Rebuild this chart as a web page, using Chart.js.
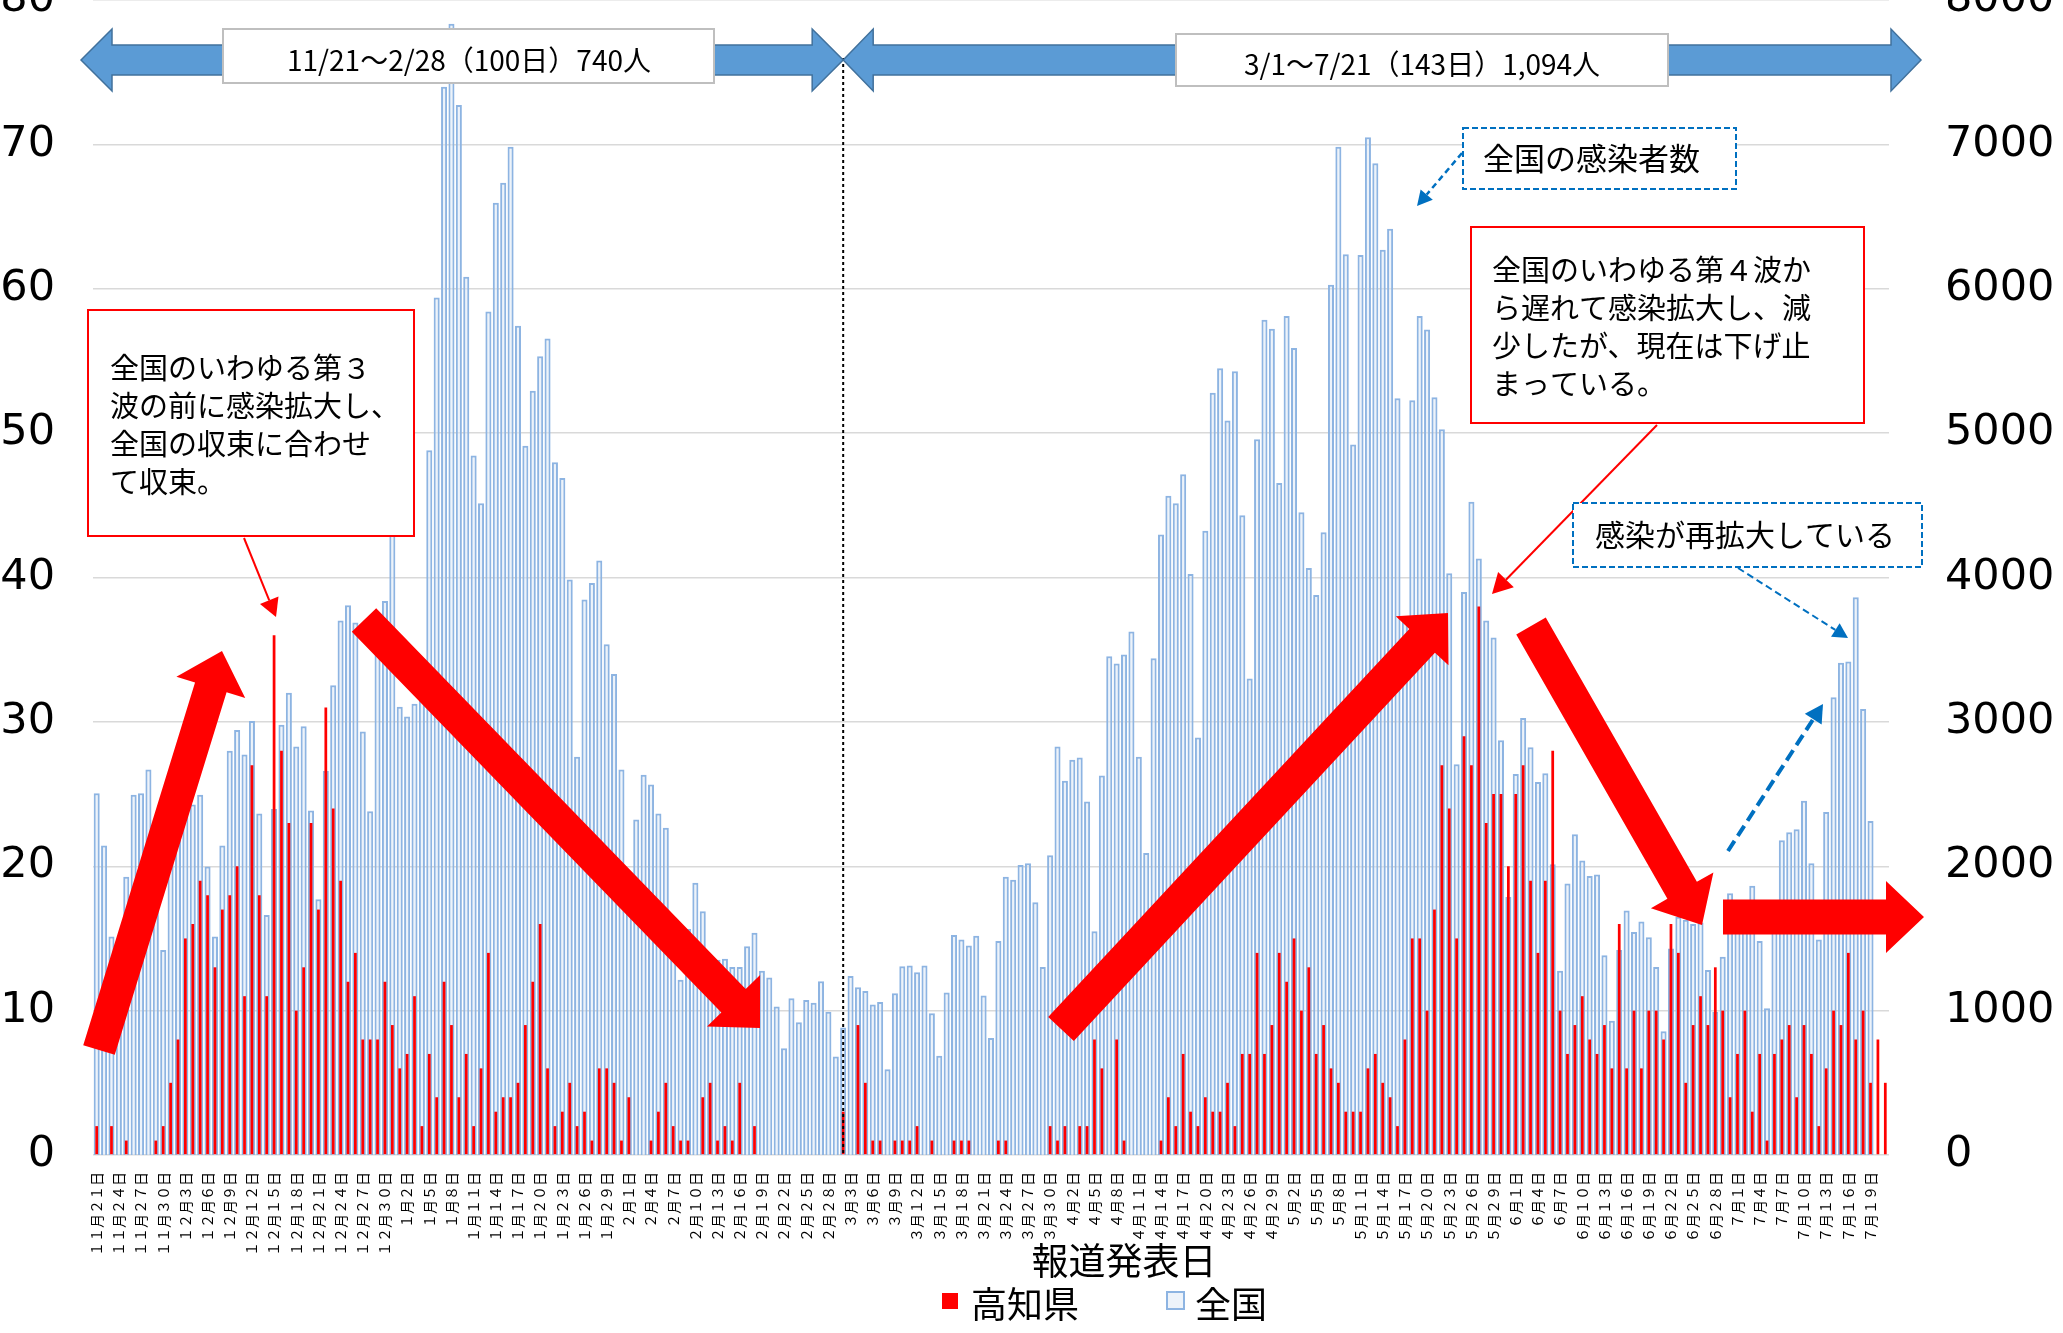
<!DOCTYPE html>
<html lang="ja">
<head>
<meta charset="utf-8">
<title>高知県・全国の新規感染者数</title>
<script src="https://cdn.jsdelivr.net/npm/chart.js@4.4.1/dist/chart.umd.min.js"></script>
<style>
  html, body { margin: 0; padding: 0; background: #fff; overflow: hidden; }
  #chart { display: block; }
</style>
</head>
<body>
<canvas id="chart" width="2063" height="1333"></canvas>
<script>
// 報道発表日 11/21〜7/21 (month, first day, last day)
const monthSpans = [[11, 21, 30], [12, 1, 31], [1, 1, 31], [2, 1, 28], [3, 1, 31], [4, 1, 30], [5, 1, 31], [6, 1, 30], [7, 1, 21]];
const dates = [];
monthSpans.forEach(([m, from, to]) => {
  for (let d = from; d <= to; d++) dates.push(m + '月' + d + '日');
});

// 高知県 (left axis)
const kochi = [
  2, 0, 2, 0, 1, 0, 0, 0, 1, 2,
  5, 8, 15, 16, 19, 18, 13, 17, 18, 20, 11, 27, 18, 11, 36, 28, 23, 10, 13, 23, 17, 31, 24, 19, 12, 14, 8, 8, 8, 12, 9,
  6, 7, 11, 2, 7, 4, 12, 9, 4, 7, 2, 6, 14, 3, 4, 4, 5, 9, 12, 16, 6, 2, 3, 5, 2, 3, 1, 6, 6, 5, 1,
  4, 0, 0, 1, 3, 5, 2, 1, 1, 0, 4, 5, 1, 2, 1, 5, 0, 2, 0, 0, 0, 0, 0, 0, 0, 0, 0, 0,
  0, 3, 0, 9, 5, 1, 1, 0, 1, 1, 1, 2, 0, 1, 0, 0, 1, 1, 1, 0, 0, 0, 1, 1, 0, 0, 0, 0, 0, 2, 1,
  2, 0, 2, 2, 8, 6, 0, 8, 1, 0, 0, 0, 0, 1, 4, 2, 7, 3, 2, 4, 3, 3, 5, 2, 7, 7, 14, 7, 9, 14,
  12, 15, 10, 13, 7, 9, 6, 5, 3, 3, 3, 6, 7, 5, 4, 2, 8, 15, 15, 10, 17, 27, 24, 15, 29, 27, 38, 23, 25, 25, 20,
  25, 27, 19, 14, 19, 28, 10, 7, 9, 11, 8, 7, 9, 6, 16, 6, 10, 6, 10, 10, 8, 16, 14, 5, 9, 11, 9, 13, 10, 4,
  7, 10, 3, 7, 1, 7, 8, 9, 4, 9, 7, 2, 6, 10, 9, 14, 8, 10, 5, 8, 5
];

// 全国 (right axis)
const zenkoku = [
  2505, 2143, 1513, 1228, 1927, 2495, 2505, 2670, 2066, 1420,
  2030, 2430, 2510, 2428, 2495, 1999, 1513, 2143, 2800, 2944, 2774, 3006, 2366, 1663, 2397, 2980, 3202, 2830, 2970, 2386,
  1772, 2660, 3254, 3703, 3807, 3688, 2934, 2381, 3590, 3838, 4520,
  3104, 3037, 3125, 3300, 4881, 5940, 7400, 7835, 7272, 6083, 4845, 4514, 5842, 6596, 6735, 6983, 5744, 4912, 5294, 5532,
  5656, 4798, 4690, 3987, 2758, 3848, 3962, 4117, 3538, 3331, 2670,
  1790, 2324, 2634, 2567, 2366, 2267, 1600, 1214, 1565, 1885, 1689, 1360, 1353, 1360, 1302, 1302, 1446, 1539, 1276, 1229,
  1028, 739, 1085, 919, 1074, 1054, 1203, 992,
  682, 883, 1240, 1162, 1136, 1043, 1059, 594, 1121, 1307, 1312, 1265, 1312, 981, 687, 1126, 1524, 1493, 1451, 1519,
  1105, 811, 1482, 1927, 1906, 2009, 2020, 1751, 1302, 2076, 2830,
  2593, 2737, 2753, 2448, 1550, 2629, 3455, 3404, 3466, 3626, 2758, 2092, 3440, 4297, 4566, 4514, 4716, 4024, 2892, 4323,
  5279, 5449, 5087, 5428, 4432, 3300, 4958, 5785, 5723, 4654,
  5811, 5589, 4452, 4065, 3879, 4313, 6028, 6983, 6239, 4922, 6234, 7050, 6869, 6270, 6415, 5242, 3700, 5227, 5811, 5718,
  5248, 5026, 4029, 2706, 3900, 4525, 4132, 3703, 3585, 2872, 1787,
  2639, 3027, 2825, 2583, 2644, 2014, 1276, 1880, 2221, 2040, 1932, 1942, 1384, 930, 1420, 1694, 1544, 1617, 1508, 1302,
  857, 1431, 1650, 1630, 1600, 1611, 1281, 992, 1374, 1813,
  1756, 1766, 1865, 1482, 1017, 1650, 2180, 2236, 2257, 2453, 2020, 1493, 2376, 3171, 3409, 3419, 3863, 3089, 2314, null, null
];

const leftMax = 80, leftStep = 10;
const rightMax = 8000, rightStep = 1000;
const splitIndex = 101; // dotted divider between the two periods

const JP = "'Noto Sans CJK JP', sans-serif";
const NUM = "'DejaVu Sans', sans-serif";
const RED = '#FF0000';
const BLUE_LINE = '#0070C0';

// half-width digits -> full-width for the date ticks
function wide(s) {
  return s.replace(/[0-9]/g, c => String.fromCharCode(c.charCodeAt(0) + 0xFEE0));
}

function fatArrow(ctx, x1, y1, x2, y2, shaft, headW, headL) {
  const a = Math.atan2(y2 - y1, x2 - x1);
  const len = Math.hypot(x2 - x1, y2 - y1);
  ctx.save();
  ctx.translate(x1, y1);
  ctx.rotate(a);
  ctx.beginPath();
  ctx.moveTo(0, -shaft / 2);
  ctx.lineTo(len - headL, -shaft / 2);
  ctx.lineTo(len - headL, -headW / 2);
  ctx.lineTo(len, 0);
  ctx.lineTo(len - headL, headW / 2);
  ctx.lineTo(len - headL, shaft / 2);
  ctx.lineTo(0, shaft / 2);
  ctx.closePath();
  ctx.fillStyle = RED;
  ctx.fill();
  ctx.restore();
}

function doubleArrow(ctx, x1, x2, y, shaft, headW, headL) {
  ctx.save();
  ctx.beginPath();
  ctx.moveTo(x1, y);
  ctx.lineTo(x1 + headL, y - headW / 2);
  ctx.lineTo(x1 + headL, y - shaft / 2);
  ctx.lineTo(x2 - headL, y - shaft / 2);
  ctx.lineTo(x2 - headL, y - headW / 2);
  ctx.lineTo(x2, y);
  ctx.lineTo(x2 - headL, y + headW / 2);
  ctx.lineTo(x2 - headL, y + shaft / 2);
  ctx.lineTo(x1 + headL, y + shaft / 2);
  ctx.lineTo(x1 + headL, y + headW / 2);
  ctx.closePath();
  ctx.fillStyle = '#5B9BD5';
  ctx.strokeStyle = '#41719C';
  ctx.lineWidth = 1.5;
  ctx.fill();
  ctx.stroke();
  ctx.restore();
}

function pointer(ctx, x1, y1, x2, y2, color, width, dash, headL, headW) {
  const a = Math.atan2(y2 - y1, x2 - x1);
  const bx = x2 - headL * Math.cos(a), by = y2 - headL * Math.sin(a);
  const nx = Math.sin(a) * headW / 2, ny = Math.cos(a) * headW / 2;
  ctx.save();
  ctx.strokeStyle = color;
  ctx.fillStyle = color;
  ctx.lineWidth = width;
  ctx.setLineDash(dash);
  ctx.beginPath();
  ctx.moveTo(x1, y1);
  ctx.lineTo(bx, by);
  ctx.stroke();
  ctx.setLineDash([]);
  ctx.beginPath();
  ctx.moveTo(x2, y2);
  ctx.lineTo(bx + nx, by - ny);
  ctx.lineTo(bx - nx, by + ny);
  ctx.closePath();
  ctx.fill();
  ctx.restore();
}

function textBox(ctx, b) {
  ctx.save();
  ctx.fillStyle = '#fff';
  ctx.fillRect(b.x, b.y, b.w, b.h);
  ctx.strokeStyle = b.stroke;
  ctx.lineWidth = b.lw || 2;
  ctx.setLineDash(b.dash || []);
  ctx.strokeRect(b.x, b.y, b.w, b.h);
  ctx.setLineDash([]);
  ctx.fillStyle = '#000';
  ctx.font = b.size + 'px ' + JP;
  ctx.textBaseline = 'middle';
  ctx.textAlign = b.align || 'left';
  b.lines.forEach((t, i) => ctx.fillText(t, b.tx, b.ty + i * (b.lineH || 0)));
  ctx.restore();
}

const decorations = {
  id: 'decorations',
  afterDraw(chart) {
    const ctx = chart.ctx;
    const xs = chart.scales.x;
    const area = chart.chartArea;

    // dotted divider between periods
    const xd = xs.getPixelForValue(splitIndex);
    ctx.save();
    ctx.strokeStyle = '#000';
    ctx.lineWidth = 2;
    ctx.setLineDash([3, 3]);
    ctx.beginPath();
    ctx.moveTo(xd, 58);
    ctx.lineTo(xd, area.bottom);
    ctx.stroke();
    ctx.restore();

    // period arrows
    doubleArrow(ctx, 81, xd, 60, 30, 62, 31);
    doubleArrow(ctx, xd, 1921, 60, 30, 62, 30);
    textBox(ctx, { x: 223, y: 29, w: 491, h: 54, stroke: '#BFBFBF', size: 28, align: 'center', tx: 469, ty: 60,
      lines: ['11/21〜2/28（100日）740人'] });
    textBox(ctx, { x: 1176, y: 34, w: 492, h: 52, stroke: '#BFBFBF', size: 28, align: 'center', tx: 1422, ty: 64,
      lines: ['3/1〜7/21（143日）1,094人'] });

    // trend arrows
    fatArrow(ctx, 99, 1050, 222, 651, 33, 72, 38);
    fatArrow(ctx, 364, 620, 760, 1028, 34, 74, 38);
    fatArrow(ctx, 1061, 1029, 1448, 613, 35, 72, 38);
    fatArrow(ctx, 1531, 626, 1702, 925, 34, 72, 40);
    fatArrow(ctx, 1723, 917, 1924, 917, 35, 72, 38);

    // callouts
    pointer(ctx, 244, 538, 276, 617, RED, 2, [], 18, 20);
    textBox(ctx, { x: 88, y: 310, w: 326, h: 226, stroke: RED, size: 29, tx: 110, ty: 368, lineH: 38,
      lines: ['全国のいわゆる第３', '波の前に感染拡大し、', '全国の収束に合わせ', 'て収束。'] });

    pointer(ctx, 1657, 425, 1492, 594, RED, 2, [], 20, 22);
    textBox(ctx, { x: 1471, y: 227, w: 393, h: 196, stroke: RED, size: 29, tx: 1492, ty: 270, lineH: 38,
      lines: ['全国のいわゆる第４波か', 'ら遅れて感染拡大し、減', '少したが、現在は下げ止', 'まっている。'] });

    pointer(ctx, 1462, 153, 1417, 206, BLUE_LINE, 2.5, [6, 4], 15, 16);
    textBox(ctx, { x: 1463, y: 128, w: 273, h: 61, stroke: BLUE_LINE, dash: [6, 3], size: 31, tx: 1483, ty: 158,
      lines: ['全国の感染者数'] });

    pointer(ctx, 1738, 568, 1848, 638, BLUE_LINE, 2, [7, 4], 15, 16);
    pointer(ctx, 1728, 851, 1823, 704, BLUE_LINE, 4, [12, 6], 18, 20);
    textBox(ctx, { x: 1573, y: 503, w: 349, h: 64, stroke: BLUE_LINE, dash: [6, 3], size: 30, tx: 1595, ty: 535,
      lines: ['感染が再拡大している'] });

    // axis title and legend
    ctx.save();
    ctx.fillStyle = '#000';
    ctx.textBaseline = 'middle';
    ctx.textAlign = 'center';
    ctx.font = '37px ' + JP;
    ctx.fillText('報道発表日', 1124, 1261);
    ctx.textAlign = 'left';
    ctx.font = '36px ' + JP;
    ctx.fillStyle = RED;
    ctx.fillRect(942, 1293, 16, 16);
    ctx.fillStyle = '#000';
    ctx.fillText(chart.data.datasets[0].label, 971, 1304);
    ctx.fillStyle = 'rgba(220,232,246,0.5)';
    ctx.fillRect(1167, 1292, 17, 17);
    ctx.strokeStyle = '#8DB4E2';
    ctx.lineWidth = 2;
    ctx.strokeRect(1167, 1292, 17, 17);
    ctx.fillStyle = '#000';
    ctx.fillText(chart.data.datasets[1].label, 1195, 1304);
    ctx.restore();
  }
};

new Chart(document.getElementById('chart'), {
  type: 'bar',
  data: {
    labels: dates,
    datasets: [
      {
        label: '高知県',
        data: kochi,
        yAxisID: 'y',
        backgroundColor: RED,
        barPercentage: 0.37,
        categoryPercentage: 1,
        grouped: false,
        order: 0
      },
      {
        label: '全国',
        data: zenkoku,
        yAxisID: 'y2',
        backgroundColor: 'rgba(220,232,246,0.5)',
        borderColor: '#8DB4E2',
        borderWidth: 2,
        barPercentage: 0.82,
        categoryPercentage: 1,
        grouped: false,
        order: 1
      }
    ]
  },
  options: {
    responsive: false,
    animation: false,
    devicePixelRatio: 1,
    events: [],
    layout: { padding: 0 },
    plugins: {
      legend: { display: false },
      tooltip: { enabled: false }
    },
    scales: {
      x: {
        grid: { display: false },
        border: { display: false },
        ticks: {
          autoSkip: false,
          minRotation: 90,
          maxRotation: 90,
          padding: 9,
          color: '#000',
          font: { family: JP, size: 14 },
          callback(value, index) {
            return index % 3 === 0 ? wide(this.getLabelForValue(value)) : null;
          }
        },
        afterFit(scale) {
          scale.height = 178;
          scale.paddingLeft = 0;
          scale.paddingRight = 0;
        }
      },
      y: {
        position: 'left',
        min: 0,
        max: leftMax,
        grid: { color: '#D9D9D9', lineWidth: 1.5, drawTicks: false },
        border: { display: false },
        ticks: {
          stepSize: leftStep,
          padding: 38,
          color: '#000',
          font: { family: NUM, size: 43 },
          callback: v => String(v)
        },
        afterFit(scale) {
          scale.width = 93;
          scale.paddingTop = 0;
          scale.paddingBottom = 0;
        }
      },
      y2: {
        position: 'right',
        min: 0,
        max: rightMax,
        grid: { display: false, drawTicks: false },
        border: { display: false },
        ticks: {
          stepSize: rightStep,
          padding: 56,
          color: '#000',
          font: { family: NUM, size: 43 },
          callback: v => String(v)
        },
        afterFit(scale) {
          scale.width = 174;
          scale.paddingTop = 0;
          scale.paddingBottom = 0;
        }
      }
    }
  },
  plugins: [decorations]
});
</script>
</body>
</html>
